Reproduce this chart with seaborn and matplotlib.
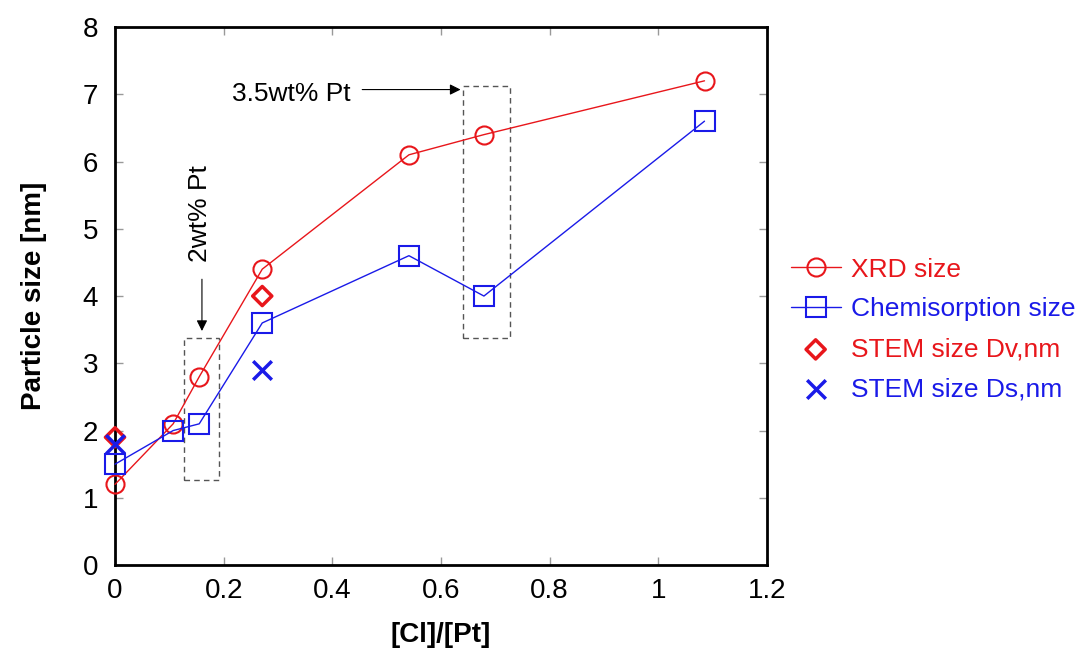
import matplotlib
matplotlib.use("Agg")
import matplotlib.pyplot as plt
import seaborn as sns
import pandas as pd
from matplotlib.patches import Rectangle

# Data
cl_pt = [0.0, 0.107, 0.155, 0.271, 0.541, 0.679, 1.085]
xrd_size = [1.2, 2.1, 2.8, 4.4, 6.1, 6.4, 7.2]
chemi_size = [1.5, 2.0, 2.1, 3.6, 4.6, 4.0, 6.6]
stem_x = [0.0, 0.271]
stem_dv = [1.9, 4.0]
stem_ds = [1.8, 2.9]

RED = "#e8161b"
BLUE = "#1a1ae8"

sns.set_theme(style="white")
plt.rcParams["font.family"] = ["Liberation Sans", "DejaVu Sans"]

fig = plt.figure(figsize=(10.83, 6.51), dpi=100)
ax = fig.add_axes([0.1062, 0.132, 0.602, 0.8265])

df1 = pd.DataFrame({"x": cl_pt, "y": xrd_size})
df2 = pd.DataFrame({"x": cl_pt, "y": chemi_size})
df3 = pd.DataFrame({"x": stem_x, "dv": stem_dv, "ds": stem_ds})

sns.lineplot(data=df1, x="x", y="y", ax=ax, sort=False, color=RED, lw=1.0,
             marker="o", markersize=13, markerfacecolor="none",
             markeredgecolor=RED, markeredgewidth=1.5, label="XRD size", zorder=4)
sns.lineplot(data=df2, x="x", y="y", ax=ax, sort=False, color=BLUE, lw=1.0,
             marker="s", markersize=14, markerfacecolor="none",
             markeredgecolor=BLUE, markeredgewidth=1.5, label="Chemisorption size", zorder=4)
sns.scatterplot(data=df3, x="x", y="dv", ax=ax, marker="D", s=95,
                facecolor="none", edgecolor=RED, linewidth=2.5,
                label="STEM size Dv,nm", zorder=5, clip_on=False)
sns.scatterplot(data=df3, x="x", y="ds", ax=ax, marker="x", s=180,
                color=BLUE, linewidth=2.5,
                label="STEM size Ds,nm", zorder=5, clip_on=False)
for ln in ax.lines:
    ln.set_clip_on(False)

# dashed boxes
ax.add_patch(Rectangle((0.127, 1.26), 0.065, 2.12, fill=False, ls=(0, (4, 3)),
                       ec="#555555", lw=1.0, zorder=2))
ax.add_patch(Rectangle((0.640, 3.38), 0.087, 3.75, fill=False, ls=(0, (4, 3)),
                       ec="#555555", lw=1.0, zorder=2))

# annotations
ax.text(0.433, 7.0, "3.5wt% Pt", ha="right", va="center", fontsize=19, color="black")
ax.annotate("", xy=(0.636, 7.07), xytext=(0.455, 7.07),
            arrowprops=dict(arrowstyle="-|>", color="black", lw=0.8, mutation_scale=16,
                            shrinkA=0, shrinkB=0))
ax.text(0.157, 5.22, "2wt% Pt", ha="center", va="center", rotation=90, fontsize=19, color="black")
ax.annotate("", xy=(0.16, 3.48), xytext=(0.16, 4.25),
            arrowprops=dict(arrowstyle="-|>", color="black", lw=0.8, mutation_scale=16,
                            shrinkA=0, shrinkB=0))

ax.set_xlim(0, 1.2)
ax.set_ylim(0, 8)
ax.set_xticks([0, 0.2, 0.4, 0.6, 0.8, 1.0, 1.2])
ax.set_xticklabels(["0", "0.2", "0.4", "0.6", "0.8", "1", "1.2"])
ax.set_yticks(range(0, 9))
ax.tick_params(axis="both", direction="in", length=6, width=1, color="#999999",
               labelsize=20, labelcolor="black", top=True, right=True,
               bottom=True, left=True)
ax.tick_params(axis="x", pad=9)
ax.tick_params(axis="y", pad=12)
for sp in ax.spines.values():
    sp.set_color("black")
    sp.set_linewidth(2)
    sp.set_visible(True)

ax.set_xlabel("[Cl]/[Pt]", fontsize=20, fontweight="bold", labelpad=13, color="black")
ax.set_ylabel("Particle size [nm]", fontsize=20, fontweight="bold", labelpad=26, color="black")

leg = ax.legend(loc="center left", bbox_to_anchor=(1.02, 0.438), frameon=False,
                fontsize=19, labelcolor=[RED, BLUE, RED, BLUE], handlelength=1.9,
                handletextpad=0.38, labelspacing=0.6, borderaxespad=0)

fig.savefig("out.png", dpi=100)
